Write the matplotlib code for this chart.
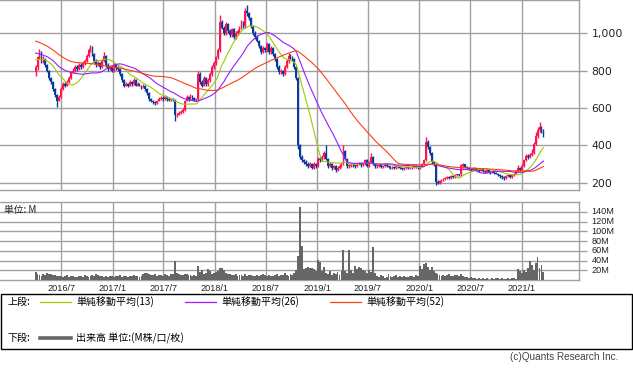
import numpy as np
import pandas as pd
import matplotlib
matplotlib.use("Agg")
import matplotlib.pyplot as plt
import matplotlib.dates as mdates
from matplotlib.lines import Line2D
from matplotlib.patches import Rectangle

# ---------------- data (weekly, from 2016-04-01) ----------------
start_date = "2016-04-01"
# closes of the 52 weeks before the first drawn candle (only used for the moving averages)
pre_close = [1060, 1080, 1100, 1120, 1090, 1070, 1100, 1110, 1080, 1060, 1090, 1100, 1070, 1080, 1060, 1050, 1040,
             980, 940, 910, 890, 870, 880, 900, 880,
             920, 940, 960, 950, 930, 940, 920, 930, 910, 920, 940, 930, 910, 900,
             880, 870, 860, 850, 870, 880, 860, 850, 860, 870, 850, 840]

opens = [790, 820, 870, 900, 850, 860, 830, 800, 760, 740,
         700, 670, 640, 660, 700, 730, 720, 740, 760, 790,
         800, 820, 810, 830, 820, 840, 850, 880, 910, 925,
         890, 850, 830, 840, 820, 850, 880, 830, 810, 820,
         800, 830, 815, 810, 780, 750, 720, 730, 720, 740,
         730, 750, 720, 730, 720, 710, 720, 700, 680, 650,
         640, 630, 625, 640, 650, 655, 650, 660, 650, 645,
         650, 645, 560, 565, 575, 580, 590, 640, 660, 650,
         665, 655, 645, 650, 780, 740, 720, 760, 730, 750,
         780, 820, 840, 870, 910, 1060, 1030, 1000, 1050, 1010,
         990, 1020, 980, 1000, 1010, 1030, 1060, 1040, 1120, 1110,
         1080, 1040, 1000, 980, 960, 930, 900, 920, 910, 940,
         900, 920, 890, 860, 820, 790, 800, 780, 820, 850,
         880, 870, 860, 820, 760, 400, 340, 320, 310, 300,
         290, 300, 280, 300, 290, 330, 320, 340, 360, 330,
         290, 300, 280, 290, 270, 280, 290, 300, 370, 330,
         290, 290, 300, 295, 290, 300, 305, 295, 300, 320,
         290, 310, 340, 300, 290, 290, 295, 285, 290, 300,
         290, 285, 280, 285, 280, 290, 285, 280, 275, 280,
         285, 280, 280, 285, 290, 285, 280, 290, 300, 320,
         420, 390, 360, 310, 300, 205, 200, 210, 215, 220,
         225, 230, 225, 235, 230, 240, 245, 250, 290, 300,
         285, 280, 275, 270, 280, 275, 270, 265, 275, 265,
         260, 270, 260, 255, 265, 255, 250, 240, 235, 230,
         225, 235, 240, 230, 240, 250, 265, 280, 270, 290,
         320, 345, 340, 350, 360, 410, 450, 480, 500, 480]

highs = [830, 880, 915, 905, 880, 865, 835, 805, 765, 745,
         705, 675, 670, 710, 740, 740, 750, 770, 800, 815,
         830, 830, 840, 840, 850, 860, 890, 920, 935, 930,
         895, 860, 850, 845, 860, 900, 885, 840, 830, 825,
         840, 835, 825, 815, 785, 755, 740, 735, 750, 745,
         760, 755, 740, 735, 725, 730, 725, 705, 685, 655,
         645, 635, 645, 660, 665, 665, 670, 665, 660, 655,
         655, 650, 575, 585, 590, 600, 645, 670, 665, 675,
         670, 660, 655, 800, 790, 750, 770, 765, 760, 790,
         830, 850, 880, 920, 1095, 1070, 1040, 1060, 1055, 1020,
         1030, 1025, 1010, 1020, 1040, 1070, 1065, 1135, 1150, 1115,
         1085, 1045, 1010, 990, 965, 935, 930, 925, 950, 945,
         930, 925, 895, 865, 830, 810, 805, 830, 860, 895,
         890, 880, 865, 825, 765, 410, 350, 330, 320, 310,
         310, 305, 310, 305, 340, 340, 350, 370, 405, 335,
         310, 305, 295, 295, 290, 300, 310, 400, 375, 335,
         300, 305, 305, 300, 305, 310, 310, 305, 325, 325,
         315, 360, 345, 305, 300, 300, 300, 295, 305, 305,
         295, 290, 290, 290, 295, 295, 290, 285, 285, 290,
         290, 285, 290, 295, 295, 290, 295, 305, 325, 447,
         430, 395, 365, 315, 305, 215, 215, 220, 225, 230,
         235, 235, 240, 240, 245, 250, 250, 300, 308, 302,
         290, 285, 282, 285, 285, 280, 275, 280, 280, 270,
         275, 272, 265, 270, 268, 260, 255, 245, 240, 235,
         240, 245, 245, 245, 255, 270, 295, 285, 300, 330,
         355, 355, 360, 380, 420, 470, 500, 523, 505, 490]

lows = [770, 805, 860, 840, 840, 820, 790, 750, 730, 690,
        660, 605, 635, 655, 695, 710, 715, 735, 755, 785,
        795, 800, 805, 810, 815, 830, 845, 875, 900, 880,
        840, 820, 825, 810, 815, 845, 820, 800, 805, 790,
        795, 805, 800, 770, 740, 710, 715, 710, 715, 720,
        725, 715, 715, 715, 700, 705, 690, 670, 640, 630,
        620, 615, 620, 635, 645, 640, 645, 640, 635, 640,
        635, 530, 550, 560, 570, 575, 585, 635, 640, 645,
        645, 635, 640, 645, 730, 710, 715, 720, 720, 740,
        770, 810, 830, 860, 900, 1020, 990, 990, 1000, 980,
        980, 970, 970, 990, 1000, 1020, 1030, 1030, 1090, 1070,
        1030, 990, 970, 950, 920, 890, 895, 900, 900, 890,
        890, 880, 850, 810, 780, 780, 770, 775, 815, 840,
        860, 850, 810, 750, 380, 330, 310, 300, 290, 280,
        285, 275, 275, 280, 285, 310, 315, 330, 320, 280,
        285, 270, 275, 260, 265, 275, 285, 295, 320, 280,
        280, 285, 285, 280, 285, 295, 285, 290, 295, 285,
        285, 305, 295, 280, 280, 285, 280, 280, 285, 285,
        280, 275, 275, 275, 275, 280, 275, 270, 270, 275,
        275, 275, 275, 280, 280, 275, 275, 285, 295, 315,
        380, 350, 300, 290, 190, 195, 195, 205, 210, 215,
        220, 220, 220, 225, 225, 235, 235, 235, 280, 280,
        275, 270, 262, 265, 268, 262, 258, 262, 260, 252,
        255, 255, 248, 252, 250, 245, 235, 228, 222, 215,
        220, 230, 225, 228, 235, 245, 260, 265, 265, 285,
        315, 330, 335, 345, 355, 400, 440, 470, 465, 445]

closes = [820, 870, 900, 850, 860, 830, 800, 760, 740, 700,
          670, 640, 660, 700, 730, 720, 740, 760, 790, 800,
          820, 810, 830, 820, 840, 850, 880, 910, 925, 890,
          850, 830, 840, 820, 850, 880, 830, 810, 820, 800,
          830, 815, 810, 780, 750, 720, 730, 720, 740, 730,
          750, 720, 730, 720, 710, 720, 700, 680, 650, 640,
          630, 625, 640, 650, 655, 650, 660, 650, 645, 650,
          645, 560, 565, 575, 580, 590, 640, 660, 650, 665,
          655, 645, 650, 780, 740, 720, 760, 730, 750, 780,
          820, 840, 870, 910, 1060, 1030, 1000, 1050, 1010, 990,
          1020, 980, 1000, 1010, 1030, 1060, 1040, 1120, 1110, 1080,
          1040, 1000, 980, 960, 930, 900, 920, 910, 940, 900,
          920, 890, 860, 820, 790, 800, 780, 820, 850, 880,
          870, 860, 820, 760, 400, 340, 320, 310, 300, 290,
          300, 280, 300, 290, 330, 320, 340, 360, 330, 290,
          300, 280, 290, 270, 280, 290, 300, 370, 330, 290,
          290, 300, 295, 290, 300, 305, 295, 300, 320, 290,
          310, 340, 300, 290, 290, 295, 285, 290, 300, 290,
          285, 280, 285, 280, 290, 285, 280, 275, 280, 285,
          280, 280, 285, 290, 285, 280, 290, 300, 320, 420,
          390, 360, 310, 300, 205, 200, 210, 215, 220, 225,
          230, 225, 235, 230, 240, 245, 240, 295, 300, 285,
          280, 275, 270, 280, 275, 270, 265, 275, 265, 260,
          270, 260, 255, 265, 255, 250, 240, 235, 230, 225,
          235, 240, 230, 240, 250, 265, 280, 270, 290, 320,
          345, 340, 350, 360, 410, 450, 480, 500, 480, 455]

volume_m = [17, 12, 10, 9, 13, 10, 14, 12, 13, 11,
            10, 9, 8, 9, 7, 8, 10, 7, 9, 8,
            6, 7, 9, 8, 6, 10, 9, 7, 8, 11,
            9, 12, 10, 8, 9, 7, 8, 6, 9, 8,
            7, 9, 8, 10, 7, 8, 9, 7, 8, 9,
            10, 9, 8, 7, 9, 12, 15, 14, 13, 11,
            10, 12, 9, 11, 10, 9, 12, 10, 9, 12,
            12, 39, 15, 12, 11, 10, 13, 12, 10, 11,
            9, 10, 8, 28, 17, 20, 12, 15, 22, 18,
            12, 14, 16, 18, 24, 24, 20, 15, 12, 13,
            11, 10, 12, 9, 11, 10, 8, 12, 9, 10,
            11, 9, 8, 10, 9, 11, 12, 10, 9, 10,
            8, 9, 10, 12, 9, 10, 11, 15, 10, 9,
            12, 10, 14, 20, 50, 149, 70, 22, 25, 26,
            24, 24, 22, 18, 42, 36, 18, 26, 15, 12,
            18, 10, 14, 12, 16, 10, 18, 61, 18, 15,
            61, 20, 15, 28, 22, 26, 24, 20, 18, 15,
            20, 16, 67, 15, 8, 6, 10, 8, 5, 7,
            12, 8, 6, 8, 10, 7, 9, 6, 8, 7,
            6, 9, 8, 7, 10, 9, 28, 22, 32, 35,
            26, 20, 26, 18, 15, 12, 10, 9, 11, 8,
            10, 12, 9, 8, 11, 10, 9, 12, 8, 7,
            6, 5, 6, 5, 4, 3, 4, 3, 5, 3,
            4, 3, 3, 4, 3, 5, 4, 3, 4, 3,
            3, 4, 3, 5, 4, 3, 22, 18, 15, 20,
            16, 25, 38, 30, 20, 35, 48, 25, 30, 16]

price_ticks = [200, 400, 600, 800, 1000]
price_tick_labels = ["200", "400", "600", "800", "1,000"]
vol_ticks = [20, 40, 60, 80, 100, 120, 140]
vol_tick_labels = ["20M", "40M", "60M", "80M", "100M", "120M", "140M"]
date_ticks = ["2016-07-01", "2017-01-01", "2017-07-01", "2018-01-01", "2018-07-01",
              "2019-01-01", "2019-07-01", "2020-01-01", "2020-07-01", "2021-01-01"]
date_tick_labels = ["2016/7", "2017/1", "2017/7", "2018/1", "2018/7",
                    "2019/1", "2019/7", "2020/1", "2020/7", "2021/1"]
ma_windows = [13, 26, 52]
ma_colors = ["#99cc00", "#9a1cff", "#ff4010"]
ma_labels = ["単純移動平均(13)", "単純移動平均(26)", "単純移動平均(52)"]

# ---------------- figure ----------------
W, H = 633, 374
fig = plt.figure(figsize=(W / 100, H / 100), dpi=100)
fig.patch.set_facecolor("white")

def fx(x):
    return x / W

def fy(y):
    return 1 - y / H

UP = "#ff1450"
DN = "#0a3a9c"
GRID = "#a0a0a0"
CJK = ["Noto Sans CJK JP", "DejaVu Sans"]

ax = fig.add_axes([0, fy(190), fx(579), 190 / H])
axv = fig.add_axes([0, fy(280), fx(579), (280 - 202) / H])

dates = pd.date_range(start_date, periods=len(closes), freq="7D")
xd = mdates.date2num(dates)
o = np.array(opens, float)
h = np.array(highs, float)
l = np.array(lows, float)
c = np.array(closes, float)
up = c >= o
cols = np.where(up, UP, DN)

# moving averages of the close
all_close = pd.Series(list(pre_close) + list(closes), dtype=float)
for win, col in zip(ma_windows, ma_colors):
    ma = all_close.rolling(win).mean().values[len(pre_close):]
    ax.plot(xd, ma, color=col, lw=0.8, zorder=4)

ax.vlines(xd, l, h, colors=cols, lw=1.0, zorder=3)
body = np.maximum(np.abs(c - o), 5)
ax.bar(xd, body, bottom=np.minimum(o, c), width=6.5, color=cols, linewidth=0, zorder=3)

axv.bar(xd, volume_m, width=6.8, color="#666666", linewidth=0, zorder=3)

xlim = (mdates.date2num(pd.Timestamp("2015-11-26")), mdates.date2num(pd.Timestamp("2021-07-24")))
tick_x = [mdates.date2num(pd.Timestamp(d)) for d in date_ticks]

for a in (ax, axv):
    a.set_xlim(*xlim)
    a.set_xticks(tick_x)
    a.grid(True, color=GRID, lw=1.0, zorder=0)
    a.set_axisbelow(True)
    for s in a.spines.values():
        s.set_color(GRID)
        s.set_linewidth(1.0)
    a.spines["left"].set_visible(False)
    a.yaxis.tick_right()
    a.tick_params(axis="y", which="both", left=False, right=True, length=6, width=1.0,
                  color=GRID, pad=3)
    a.tick_params(axis="x", length=0)

ax.set_xticklabels([])
axv.set_xticklabels(date_tick_labels, fontsize=6.6, family="Liberation Sans", color="#222222")
axv.tick_params(axis="x", pad=3)

ax.set_ylim(162, 1177)
ax.set_yticks(price_ticks)
ax.set_yticklabels(price_tick_labels, fontsize=7.8, color="#222222")

axv.set_ylim(0, 160)
axv.set_yticks(vol_ticks)
axv.set_yticklabels(vol_tick_labels, fontsize=6.6, family="Liberation Sans", color="#222222")
for t in axv.get_yticklabels():
    t.set_verticalalignment("center")

fig.text(fx(4), fy(210), "単位: M", fontsize=7, family=CJK, va="center", ha="left", color="#222222")

# ---------------- legend box ----------------
fig.patches.append(Rectangle((fx(0.5), fy(349)), fx(631.5), (349 - 294) / H, transform=fig.transFigure,
                             fill=False, edgecolor="black", lw=1.0))
row1, row2 = 302, 338
fig.text(fx(8), fy(row1), "上段:", fontsize=7.2, family=CJK, va="center", ha="left")
seg_x = [(40, 71), (185, 216), (330, 361)]
txt_x = [76, 221, 366]
for (x0, x1), tx, col, lab in zip(seg_x, txt_x, ma_colors, ma_labels):
    fig.lines.append(Line2D([fx(x0), fx(x1)], [fy(row1), fy(row1)], transform=fig.transFigure,
                            color=col, lw=0.9))
    fig.text(fx(tx), fy(row1), lab, fontsize=7.2, family=CJK, va="center", ha="left")

fig.text(fx(8), fy(row2), "下段:", fontsize=7.2, family=CJK, va="center", ha="left")
fig.lines.append(Line2D([fx(40), fx(71)], [fy(row2), fy(row2)], transform=fig.transFigure,
                        color="#666666", lw=2.6))
fig.text(fx(76), fy(row2), "出来高 単位:(M株/口/枚)", fontsize=7.2, family=CJK, va="center", ha="left")

fig.text(fx(618), fy(357), "(c)Quants Research Inc.", fontsize=7.2, family="Liberation Sans",
         va="center", ha="right", color="#444444")

fig.savefig("out.png", dpi=100)
